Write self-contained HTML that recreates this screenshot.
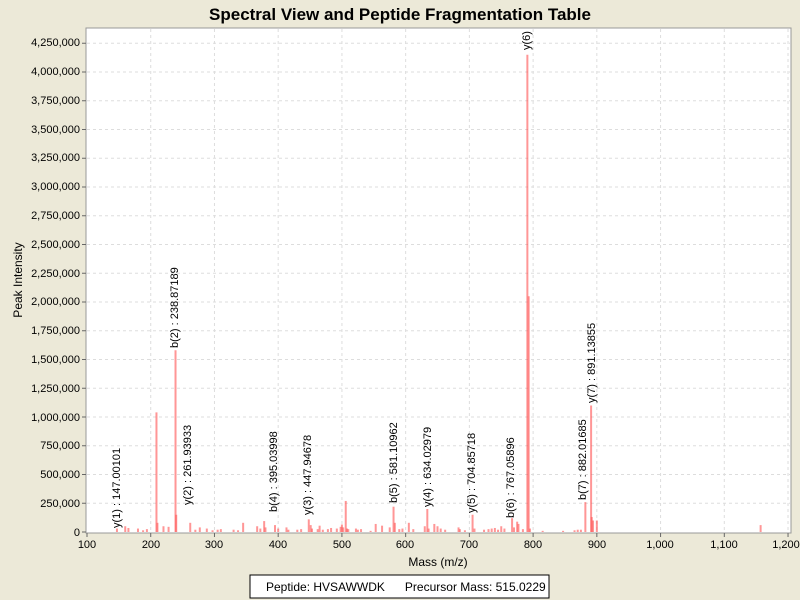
<!DOCTYPE html>
<html><head><meta charset="utf-8"><style>
body{margin:0;background:#ece9d8;}
svg{display:block;font-family:"Liberation Sans",sans-serif;}
</style></head><body>
<svg id="s" width="800" height="600" xmlns="http://www.w3.org/2000/svg">
<defs><clipPath id="c"><rect x="86" y="29" width="705" height="504"/></clipPath></defs>
<rect width="800" height="600" fill="#ece9d8"/>
<text x="400" y="20" text-anchor="middle" font-size="17" font-weight="bold">Spectral View and Peptide Fragmentation Table</text>
<rect x="86" y="28" width="705" height="505" fill="#fff" stroke="#999"/>
<g id="grid" stroke="#ddd" stroke-dasharray="3,3" stroke-width="1"></g>
<g id="peaks" stroke="#ff5050" stroke-opacity="0.6" stroke-width="2"></g>
<g id="ticks" stroke="#666"></g>
<g font-size="11" text-anchor="end">
<text x="80" y="46">4,250,000</text><text x="80" y="75">4,000,000</text><text x="80" y="104">3,750,000</text><text x="80" y="133">3,500,000</text><text x="80" y="161">3,250,000</text><text x="80" y="190">3,000,000</text><text x="80" y="219">2,750,000</text><text x="80" y="248">2,500,000</text><text x="80" y="277">2,250,000</text><text x="80" y="305">2,000,000</text><text x="80" y="334">1,750,000</text><text x="80" y="363">1,500,000</text><text x="80" y="392">1,250,000</text><text x="80" y="421">1,000,000</text><text x="80" y="449">750,000</text><text x="80" y="478">500,000</text><text x="80" y="507">250,000</text><text x="80" y="536">0</text>
</g>
<g font-size="11" text-anchor="middle">
<text x="87" y="548">100</text><text x="151" y="548">200</text><text x="214" y="548">300</text><text x="278" y="548">400</text><text x="342" y="548">500</text><text x="405" y="548">600</text><text x="469" y="548">700</text><text x="533" y="548">800</text><text x="597" y="548">900</text><text x="660" y="548">1,000</text><text x="724" y="548">1,100</text><text x="786" y="548">1,200</text>
</g>
<text x="438" y="566" text-anchor="middle" font-size="12">Mass (m/z)</text>
<text transform="translate(22,280) rotate(-90)" text-anchor="middle" font-size="12">Peak Intensity</text>
<g font-size="11" clip-path="url(#c)">
<text transform="translate(120,528) rotate(-90)">y(1) : 147.00101</text>
<text transform="translate(178,348) rotate(-90)">b(2) : 238.87189</text>
<text transform="translate(191,505) rotate(-90)">y(2) : 261.93933</text>
<text transform="translate(277,512) rotate(-90)">b(4) : 395.03998</text>
<text transform="translate(311,515) rotate(-90)">y(3) : 447.94678</text>
<text transform="translate(397,503) rotate(-90)">b(5) : 581.10962</text>
<text transform="translate(431,507) rotate(-90)">y(4) : 634.02979</text>
<text transform="translate(475,513) rotate(-90)">y(5) : 704.85718</text>
<text transform="translate(514,518) rotate(-90)">b(6) : 767.05896</text>
<text transform="translate(586,500) rotate(-90)">b(7) : 882.01685</text>
<text transform="translate(595,403) rotate(-90)">y(7) : 891.13855</text>
<text transform="translate(530,50) rotate(-90)">y(6) : 791.0</text>
</g>
<rect x="250" y="575" width="299" height="23" fill="#fff" stroke="#000"/>
<text x="266" y="591" font-size="12" xml:space="preserve">Peptide: HVSAWWDK      Precursor Mass: 515.0229</text>
<script>
var X=function(m){return 87+(m-100)*0.6373};
var Y=function(v){return 532-v/250000*28.75};
var g=document.getElementById('grid'),p=document.getElementById('peaks'),t=document.getElementById('ticks'),ns='http://www.w3.org/2000/svg';
function L(par,x1,y1,x2,y2){var l=document.createElementNS(ns,'line');l.setAttribute('x1',x1);l.setAttribute('y1',y1);l.setAttribute('x2',x2);l.setAttribute('y2',y2);par.appendChild(l);}
for(var m=200;m<=1200;m+=100)L(g,X(m),29,X(m),532);
for(var v=250000;v<=4250000;v+=250000)L(g,87,Y(v),790,Y(v));
for(var m=100;m<=1200;m+=100)L(t,X(m),533,X(m),537);
for(var v=0;v<=4250000;v+=250000)L(t,82,Y(v),86,Y(v));
var pk=[[147,30e3],[160,50e3],[165,35e3],[180,30e3],[188,15e3],[194,25e3],[209,1040e3],[210.5,80e3],[220,50e3],[228,45e3],[238.9,1580e3],[240,150e3],[262,80e3],[270,20e3],[277,40e3],[288,30e3],[297,15e3],[305,20e3],[310,25e3],[330,20e3],[337,15e3],[345,80e3],[367,50e3],[372,30e3],[378,95e3],[380,40e3],[395,60e3],[400,30e3],[413,40e3],[416,20e3],[430,20e3],[436,25e3],[448,110e3],[451,60e3],[453,30e3],[462,25e3],[465,55e3],[470,20e3],[478,25e3],[483,35e3],[492,30e3],[498,45e3],[500,65e3],[502,40e3],[506,270e3],[508,30e3],[510,25e3],[522,30e3],[525,20e3],[530,25e3],[545,10e3],[553,70e3],[563,55e3],[575,40e3],[581,220e3],[583,80e3],[590,25e3],[595,30e3],[605,80e3],[612,25e3],[630,50e3],[634,200e3],[636,30e3],[645,70e3],[650,50e3],[655,30e3],[662,20e3],[683,40e3],[685,25e3],[693,15e3],[705,150e3],[708,30e3],[723,20e3],[730,25e3],[735,30e3],[740,35e3],[745,20e3],[750,50e3],[755,30e3],[767,120e3],[770,40e3],[775,90e3],[777,70e3],[784,25e3],[791,4150e3],[793,2050e3],[795,30e3],[815,10e3],[847,10e3],[865,15e3],[870,20e3],[875,20e3],[882,260e3],[891,1100e3],[892,130e3],[894,100e3],[900,100e3],[1157,60e3]];
pk.forEach(function(a){L(p,X(a[0]),532,X(a[0]),Y(a[1]));});
</script>
</svg>
</body></html>
